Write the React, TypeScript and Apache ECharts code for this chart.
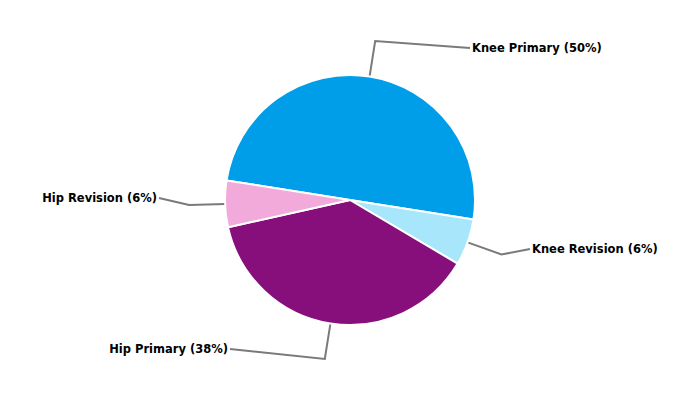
import React, { useEffect, useRef } from "react";
import * as echarts from "echarts";

const categories = ["Knee Primary", "Knee Revision", "Hip Primary", "Hip Revision"];
const values = [50, 6, 38, 6];
const colors = ["#009DE8", "#A8E6FB", "#870F7B", "#F2AADA"];
// label anchor positions (layout only)
const labelPos = [
  { x: 472, y: 48, align: "left" },
  { x: 532, y: 249, align: "left" },
  { x: 228, y: 349, align: "right" },
  { x: 157, y: 198, align: "right" },
];

export default function App() {
  const ref = useRef<HTMLDivElement>(null);
  useEffect(() => {
    document.body.style.margin = "0";
    const chart = echarts.init(ref.current!, null, { renderer: "svg" });
    const total = values.reduce((a, b) => a + b, 0);
    chart.setOption({
      animation: false,
      backgroundColor: "#ffffff",
      series: [
        {
          type: "pie",
          center: [350, 200],
          radius: 125,
          startAngle: 171,
          clockwise: true,
          avoidLabelOverlap: false,
          data: categories.map((c, i) => ({
            name: c,
            value: values[i],
            itemStyle: { color: colors[i] },
          })),
          itemStyle: { borderColor: "#ffffff", borderWidth: 2 },
          label: {
            show: true,
            formatter: (p: any) => `${p.name} (${Math.round((p.value / total) * 100)}%)`,
            fontFamily: "DejaVu Sans, sans-serif",
            fontWeight: "bold",
            fontSize: 11.5,
            color: "#000000",
          },
          labelLine: {
            show: true,
            length: 36,
            length2: 10,
            smooth: false,
            lineStyle: { color: "#7a7a7a", width: 2 },
          },
          labelLayout: (params: any) => {
            const i = params.dataIndex;
            const lp = labelPos[i];
            const pts = params.labelLinePoints;
            const out: any = {
              x: lp.x,
              y: lp.y,
              align: lp.align,
              verticalAlign: "middle",
            };
            if (pts && pts.length >= 2) {
              out.labelLinePoints = [
                pts[0],
                pts[1],
                [lp.align === "left" ? lp.x - 2 : lp.x + 2, lp.y],
              ];
            }
            return out;
          },
          emphasis: { disabled: true },
        },
      ],
    });
    return () => chart.dispose();
  }, []);
  return <div ref={ref} style={{ width: 700, height: 400 }} />;
}
